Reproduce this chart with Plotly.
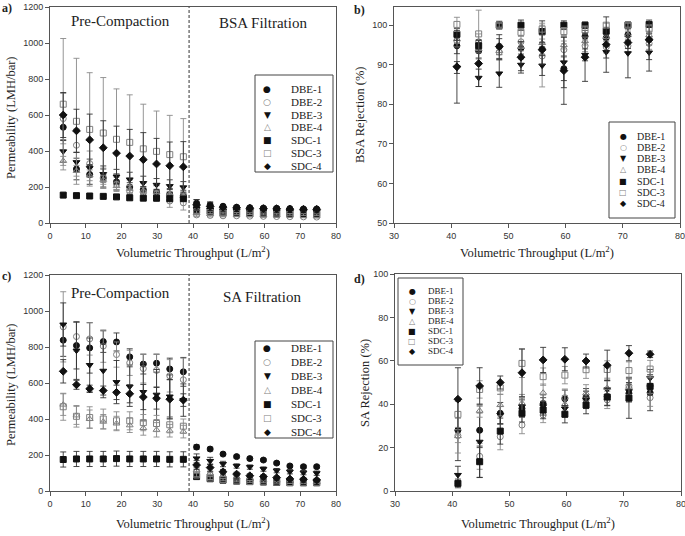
import plotly.graph_objects as go

# ---------------- data ----------------
series_names = ["DBE-1", "DBE-2", "DBE-3", "DBE-4", "SDC-1", "SDC-3", "SDC-4"]

x_throughput = [3.7, 7.4, 11.1, 14.9, 18.6, 22.3, 26.1, 29.8, 33.5, 37.3,
                41.0, 44.8, 48.4, 52.2, 55.9, 59.7, 63.4, 67.1, 70.9, 74.6]
x_filtration = [41.0, 44.8, 48.4, 52.2, 55.9, 59.7, 63.4, 67.1, 70.9, 74.6]

# a) BSA permeability (LMH/bar)
bsa_perm = [
    [532, 300, 270, 250, 228, 200, 185, 172, 160, 152, 110, 100, 93, 88, 85, 83, 82, 80, 78, 78],
    [580, 432, 330, 250, 215, 175, 168, 150, 122, 112, 45, 42, 40, 40, 38, 37, 36, 35, 34, 33],
    [398, 338, 305, 272, 258, 242, 222, 212, 205, 198, 80, 74, 70, 68, 66, 65, 64, 63, 62, 62],
    [345, 290, 265, 240, 205, 190, 180, 170, 160, 150, 55, 50, 48, 46, 45, 44, 43, 42, 41, 40],
    [155, 152, 150, 148, 145, 140, 138, 138, 135, 135, 72, 66, 62, 60, 58, 56, 55, 54, 52, 52],
    [660, 565, 520, 500, 465, 448, 412, 398, 380, 368, 62, 58, 55, 53, 52, 50, 49, 48, 47, 46],
    [600, 512, 462, 418, 388, 372, 352, 328, 318, 312, 100, 92, 88, 84, 82, 80, 79, 77, 76, 76],
]
bsa_perm_err = [
    [70, 60, 55, 50, 45, 40, 38, 35, 32, 30, 20, 15, 10, 8, 8, 8, 8, 6, 6, 6],
    [140, 90, 70, 55, 40, 35, 35, 30, 35, 40, 10, 8, 6, 5, 5, 5, 5, 5, 5, 5],
    [60, 55, 50, 45, 40, 40, 38, 35, 35, 32, 15, 12, 10, 8, 8, 8, 6, 6, 6, 6],
    [25, 30, 30, 25, 22, 20, 18, 18, 16, 15, 8, 6, 5, 5, 5, 5, 5, 5, 5, 5],
    [10, 8, 6, 6, 6, 6, 6, 6, 6, 6, 6, 5, 5, 4, 4, 4, 4, 4, 4, 4],
    [365, 350, 315, 308, 280, 264, 248, 224, 218, 212, 8, 6, 5, 5, 5, 5, 5, 5, 5, 5],
    [125, 120, 143, 150, 150, 148, 150, 142, 132, 140, 30, 25, 12, 10, 10, 10, 8, 8, 8, 8],
]

# b) BSA rejection (%)
bsa_rej = [
    [94.8, 93.5, 94.6, 94.2, 94.0, 89.0, 97.2, 96.8, 97.6, 96.5],
    [96.0, 95.8, 93.2, 95.8, 92.2, 93.8, 94.8, 94.5, 94.8, 95.4],
    [89.3, 86.7, 87.8, 90.0, 89.8, 90.6, 92.5, 93.2, 92.9, 93.1],
    [96.5, 94.0, 93.5, 94.5, 95.5, 95.0, 96.0, 97.0, 97.5, 97.5],
    [97.7, 94.8, 100.0, 100.0, 98.4, 100.0, 100.0, 98.5, 100.0, 100.2],
    [100.2, 97.8, 100.0, 98.2, 99.0, 98.4, 98.8, 100.0, 100.0, 99.1],
    [89.5, 90.3, 94.6, 91.9, 93.8, 88.5, 91.9, 95.1, 95.6, 96.3],
]
bsa_rej_err = [
    [2.0, 2.0, 2.0, 1.5, 1.5, 3.0, 1.5, 1.5, 1.5, 1.5],
    [1.5, 2.0, 2.0, 1.5, 7.8, 1.5, 1.5, 1.5, 1.5, 1.5],
    [1.5, 2.2, 3.5, 1.5, 2.5, 6.4, 1.5, 1.5, 6.2, 4.7],
    [1.0, 1.0, 1.0, 1.0, 1.0, 1.0, 1.0, 1.0, 1.0, 1.0],
    [1.5, 1.5, 1.0, 1.3, 2.7, 1.1, 0.8, 0.8, 0.8, 0.5],
    [1.8, 6.0, 0.5, 1.0, 1.5, 1.0, 1.0, 0.5, 0.5, 1.0],
    [9.2, 5.8, 3.0, 4.0, 3.8, 8.5, 6.1, 7.0, 1.5, 5.0],
]

# c) SA permeability (LMH/bar)
sa_perm = [
    [838, 808, 795, 830, 828, 745, 705, 710, 678, 662, 244, 233, 205, 191, 180, 172, 155, 139, 135, 135],
    [912, 858, 845, 805, 758, 712, 680, 670, 640, 618, 107, 88, 76, 66, 60, 58, 55, 52, 50, 48],
    [925, 780, 700, 668, 605, 580, 550, 535, 525, 505, 181, 167, 150, 139, 133, 122, 113, 107, 102, 99],
    [480, 420, 400, 385, 375, 365, 350, 340, 335, 330, 115, 98, 86, 76, 68, 62, 58, 55, 52, 50],
    [175, 178, 178, 178, 180, 178, 178, 178, 176, 176, 80, 68, 60, 55, 52, 50, 48, 46, 46, 46],
    [468, 415, 408, 400, 390, 390, 380, 375, 368, 360, 89, 72, 63, 56, 53, 51, 49, 47, 46, 46],
    [665, 590, 568, 558, 548, 540, 522, 515, 510, 505, 144, 130, 107, 94, 85, 80, 74, 67, 65, 61],
]
sa_perm_err = [
    [90, 130, 140, 60, 50, 45, 55, 50, 60, 80, 12, 10, 8, 8, 8, 8, 8, 8, 8, 8],
    [195, 80, 90, 90, 70, 70, 80, 90, 90, 120, 20, 15, 10, 8, 8, 8, 8, 8, 8, 8],
    [120, 160, 150, 150, 120, 110, 160, 140, 120, 90, 25, 20, 15, 12, 12, 12, 12, 12, 12, 12],
    [60, 50, 50, 40, 40, 40, 40, 40, 35, 35, 15, 10, 8, 8, 8, 8, 8, 8, 8, 8],
    [42, 42, 42, 42, 42, 42, 42, 42, 42, 42, 8, 6, 6, 5, 5, 5, 5, 5, 5, 5],
    [75, 60, 60, 55, 50, 50, 45, 45, 45, 40, 10, 8, 6, 5, 5, 5, 5, 5, 5, 5],
    [65, 25, 20, 25, 40, 50, 70, 60, 110, 35, 25, 20, 12, 10, 10, 10, 8, 8, 8, 8],
]

# d) SA rejection (%)
sa_rej = [
    [28.0, 28.0, 35.8, 38.0, 40.3, 42.5, 43.2, 43.5, 45.0, 45.3],
    [25.5, 16.0, 25.0, 30.4, 35.0, 43.0, 42.0, 42.0, 48.5, 43.0],
    [7.4, 22.7, 35.0, 38.9, 39.0, 38.0, 42.0, 46.8, 46.0, 52.0],
    [25.3, 37.0, 39.6, 40.5, 45.3, 40.0, 45.0, 47.5, 48.0, 49.0],
    [3.5, 13.5, 27.6, 35.8, 37.3, 35.4, 39.6, 43.3, 42.8, 48.2],
    [35.3, 46.8, 47.5, 58.8, 52.7, 53.4, 55.9, 56.0, 55.5, 56.2],
    [42.3, 48.4, 50.0, 54.5, 60.4, 60.7, 59.9, 57.9, 63.5, 63.0],
]
sa_rej_err = [
    [14.0, 8.0, 5.0, 4.0, 4.0, 4.0, 4.0, 4.0, 4.0, 8.3],
    [8.0, 6.0, 6.0, 4.0, 3.5, 4.0, 4.0, 4.0, 4.0, 4.0],
    [4.0, 16.5, 4.0, 4.0, 4.0, 4.0, 4.0, 4.0, 4.0, 4.0],
    [3.0, 3.0, 5.0, 4.0, 4.0, 4.0, 4.0, 4.0, 4.0, 4.0],
    [2.0, 7.2, 6.0, 4.0, 4.0, 4.0, 4.0, 4.0, 9.3, 4.0],
    [6.0, 4.0, 3.0, 6.5, 4.0, 4.0, 4.0, 4.0, 4.0, 4.0],
    [14.5, 8.4, 3.0, 11.0, 5.8, 5.3, 3.2, 7.0, 3.5, 1.5],
]

# ---------------- styles ----------------
symbols = ["circle", "circle-open", "triangle-down", "triangle-up-open",
           "square", "square-open", "diamond"]
legend_glyphs = ["\u25CF", "\u25CB", "\u25BC", "\u25B3", "\u25A0", "\u25A1", "\u25C6"]
colors = ["#111111", "#808080", "#111111", "#808080", "#111111", "#808080", "#111111"]
err_colors = ["#333333", "#8a8a8a", "#333333", "#8a8a8a", "#333333", "#8a8a8a", "#333333"]

SERIF = "Liberation Serif"
SANS = "Liberation Sans"

fig = go.Figure()

panels = [
    ("x", "y", x_throughput, bsa_perm, bsa_perm_err),
    ("x2", "y2", x_filtration, bsa_rej, bsa_rej_err),
    ("x3", "y3", x_throughput, sa_perm, sa_perm_err),
    ("x4", "y4", x_filtration, sa_rej, sa_rej_err),
]

for xa, ya, xs, vals, errs in panels:
    for i, name in enumerate(series_names):
        fig.add_trace(go.Scatter(
            x=xs, y=vals[i], mode="markers", name=name,
            xaxis=xa, yaxis=ya, showlegend=False,
            marker=dict(symbol=symbols[i], size=6, color=colors[i],
                        line=dict(width=1, color=colors[i])),
            error_y=dict(type="data", array=errs[i], visible=True,
                         color=err_colors[i], thickness=0.9, width=3),
        ))

W, H = 685, 536
def px(x):
    return x / W
def py(y):
    return 1 - y / H

axis_common = dict(showgrid=False, zeroline=False, showline=True,
                   linecolor="#555555", linewidth=1, mirror=True,
                   ticks="outside", ticklen=4, tickcolor="#555555",
                   ticklabeloverflow="allow",
                   tickfont=dict(family=SANS, size=9, color="#333333"))

fig.update_layout(
    width=W, height=H,
    margin=dict(l=0, r=0, t=0, b=0, autoexpand=False),
    paper_bgcolor="white", plot_bgcolor="white",
    showlegend=False,
    xaxis=dict(domain=[px(50), px(336)], anchor="y", range=[0, 80], dtick=10, **axis_common),
    yaxis=dict(domain=[py(223), py(7)], anchor="x", range=[0, 1200], dtick=200, **axis_common),
    xaxis2=dict(domain=[px(394), px(680)], anchor="y2", range=[30, 80], dtick=10, **axis_common),
    yaxis2=dict(domain=[py(223), py(7)], anchor="x2", range=[50, 104.6], tickvals=[50, 60, 70, 80, 90, 100], **axis_common),
    xaxis3=dict(domain=[px(50), px(336)], anchor="y3", range=[0, 80], dtick=10, **axis_common),
    yaxis3=dict(domain=[py(491), py(275)], anchor="x3", range=[0, 1200], dtick=200, **axis_common),
    xaxis4=dict(domain=[px(395), px(681)], anchor="y4", range=[30, 80], dtick=10, **axis_common),
    yaxis4=dict(domain=[py(491), py(274)], anchor="x4", range=[0, 100], dtick=20, **axis_common),
)

shapes = []
# dashed separators between pre-compaction and filtration
for xref, yref in [("x", "y domain"), ("x3", "y3 domain")]:
    shapes.append(dict(type="line", xref=xref, yref=yref, x0=38.9, x1=38.9, y0=0, y1=1,
                       line=dict(color="#333333", width=1, dash="3px,2px")))

ann = []
def text(x, y, s, size, angle=0, xanchor="center", bold=False, family=SERIF, color="#222222"):
    ann.append(dict(x=px(x), y=py(y), xref="paper", yref="paper",
                    text=("<b>%s</b>" % s) if bold else s,
                    showarrow=False, xanchor=xanchor, yanchor="middle", textangle=angle,
                    font=dict(family=family, size=size, color=color)))

# legends (boxes with symbol glyphs and labels)
def legend_box(x0, y0, x1, y1, sx, tx, fy, step, fsize, gsize):
    shapes.append(dict(type="rect", xref="paper", yref="paper",
                       x0=px(x0), x1=px(x1), y0=py(y1), y1=py(y0),
                       line=dict(color="#444444", width=1), fillcolor="white", layer="above"))
    for i, name in enumerate(series_names):
        yy = fy + i * step
        text(sx, yy, legend_glyphs[i], gsize, family="DejaVu Sans", color=colors[i])
        text(tx, yy, name, fsize, xanchor="left", color="#222222")

legend_box(255, 75, 333, 172, 267, 289, 89, 12.8, 11, 9)
legend_box(609, 122, 675, 218, 623, 635, 136, 11.3, 10, 8)
legend_box(255, 341, 333, 438, 267, 289, 348, 14.0, 11, 9)
legend_box(398, 278, 463, 365, 412, 426, 291, 10.0, 9, 8)

# panel labels
text(0, 8, "a)", 12, xanchor="left", bold=True)
text(352, 10, "b)", 12, xanchor="left", bold=True)
text(0, 276, "c)", 12, xanchor="left", bold=True)
text(352, 279, "d)", 12, xanchor="left", bold=True)

# region labels
text(120, 21, "Pre-Compaction", 15)
text(263, 23, "BSA Filtration", 15)
text(120, 293, "Pre-Compaction", 15)
text(262, 297, "SA Filtration", 15)

# axis titles
xt = "Volumetric Throughput (L/m<sup>2</sup>)"
text(193, 252, xt, 12.5)
text(537, 252, xt, 12.5)
text(193, 523, xt, 12.5)
text(538, 523, xt, 12.5)
text(11, 118, "Permeability (LMH/bar)", 12.5, angle=-90)
text(360, 115, "BSA Rejection (%)", 12.5, angle=-90)
text(11, 385, "Permeability (LMH/bar)", 12.5, angle=-90)
text(365, 383, "SA Rejection (%)", 12.5, angle=-90)

fig.update_layout(annotations=ann, shapes=shapes)

fig.write_html("out.html",
               config={"displayModeBar": False},
               post_script="document.body.style.margin='0px';document.body.style.overflow='hidden';")
